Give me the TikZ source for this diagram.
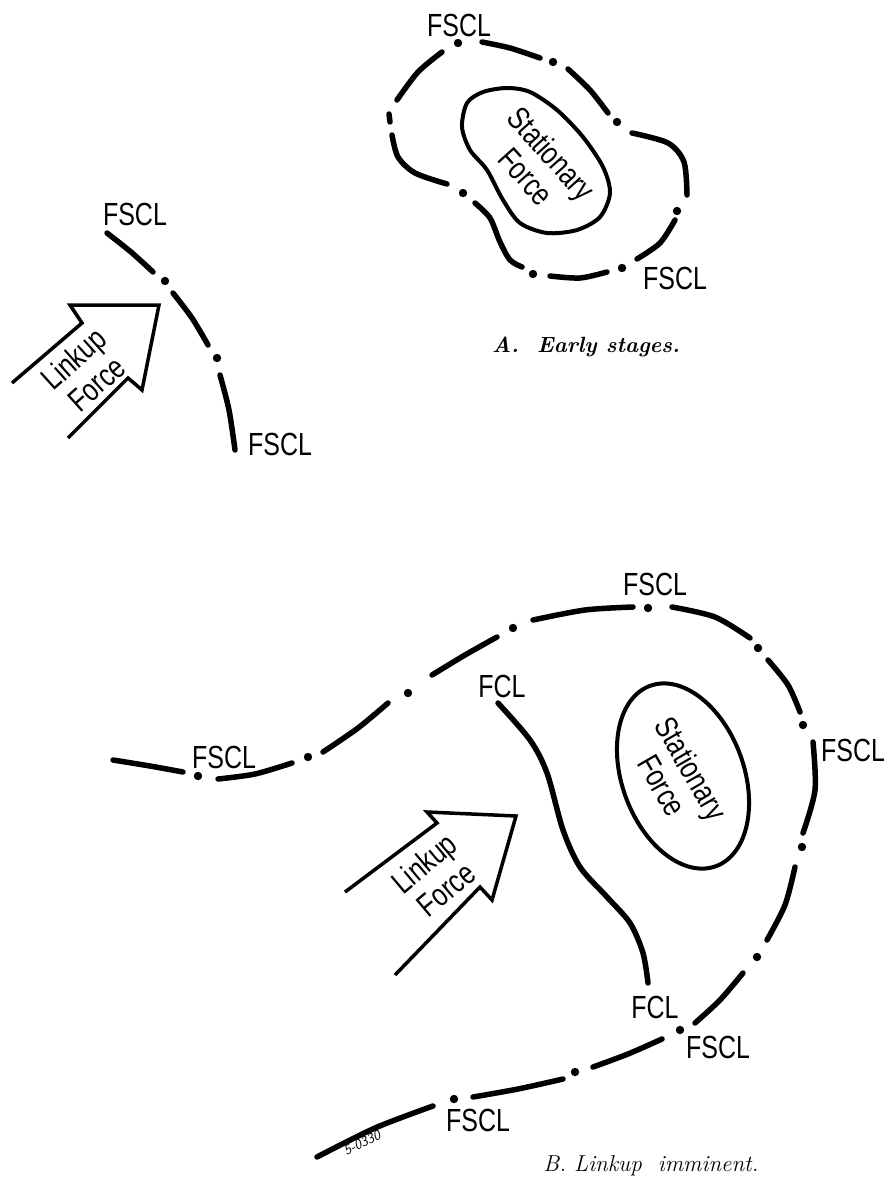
\documentclass[tikz,border=0pt]{standalone}
\usepackage{fontspec}
\newfontfamily\labfont{Liberation Sans}[FakeStretch=0.78]
\begin{document}
\begin{tikzpicture}[x=1pt,y=-1pt,
  fl/.style={line width=5.5pt, line cap=round, line join=round},
  sf/.style={line width=4pt, line join=round},
  arr/.style={line width=3.5pt, line join=miter},
  lab/.style={font=\labfont\fontsize{32}{34}\selectfont, inner sep=0pt, align=center},
  capt/.style={font=\itshape\fontsize{23}{25}\selectfont\addfontfeature{LetterSpace=5}, inner sep=0pt},
  capa/.style={font=\bfseries\itshape\fontsize{22}{25}\selectfont\addfontfeature{LetterSpace=7}, inner sep=0pt},
  dotr/.style={radius=4.2pt}]
\fill[white] (0,0) rectangle (889,1177);
\useasboundingbox (0,0) rectangle (889,1177);

% ---------- A: left FSCL line ----------
\draw[fl] plot[smooth] coordinates {(107,233) (131,252) (153,272)};
\fill (165,281) circle[dotr];
\draw[fl] plot[smooth] coordinates {(173,293) (192,318) (208,345)};
\fill (217,358) circle[dotr];
\draw[fl] plot[smooth] coordinates {(220,375) (229,410) (235,450)};
\node[lab] (a1) at (135,214) {FSCL};
\node[lab] (a2) at (280,444) {FSCL};

% ---------- A: arrow ----------
\draw[arr] (12,383) -- (82,323) -- (70,305) -- (159,305) -- (142,390) -- (128,378) -- (68,438);
\node[lab, rotate=42] (alk) at (85,371) {Linkup\\Force};

% ---------- A: outer FSCL loop ----------
\fill (458,43) circle[dotr];
\draw[fl] plot[smooth] coordinates {(442,52) (418,72) (397,100)};
\draw[fl] (389,114) -- (390,122);
\draw[fl] plot[smooth] coordinates {(392,135) (398,157) (415,173) (447,184)};
\fill (463,193) circle[dotr];
\draw[fl] plot[smooth] coordinates {(475,203) (490,218) (500,242) (510,260) (522,267)};
\fill (533,274) circle[dotr];
\draw[fl] plot[smooth] coordinates {(550,276) (580,278) (607,272)};
\fill (622,268) circle[dotr];
\draw[fl] plot[smooth] coordinates {(637,259) (660,243) (675,220)};
\fill (677,211) circle[dotr];
\draw[fl] plot[smooth] coordinates {(687,195) (684,162) (668,143) (632,133)};
\fill (617,122) circle[dotr];
\draw[fl] plot[smooth] coordinates {(608,113) (590,90) (568,69)};
\fill (553,62) circle[dotr];
\draw[fl] plot[smooth] coordinates {(540,58) (510,48) (482,42)};
\node[lab] (a3) at (459,25) {FSCL};
\node[lab] (a4) at (675,278) {FSCL};

% ---------- A: stationary force ----------
\draw[sf] plot[smooth cycle] coordinates {(467,103) (483,92) (507,88) (530,92) (557,110) (583,137) (603,167) (610,193) (600,217) (577,230) (547,233) (520,223) (503,200) (487,170) (470,150) (462,127)};
\node[lab, rotate=-48] (ast) at (539,165) {Stationary\\Force};

\node[capa] (acap) at (586,347) {A.\ \ Early stages.};

% ---------- B: big FSCL curve ----------
\draw[fl] plot[smooth] coordinates {(113,760) (150,766) (183,772)};
\fill (198,776) circle[dotr];
\draw[fl] plot[smooth] coordinates {(218,779) (255,774) (292,763)};
\fill (308,757) circle[dotr];
\draw[fl] plot[smooth] coordinates {(323,752) (358,728) (388,703)};
\fill (408,693) circle[dotr];
\draw[fl] plot[smooth] coordinates {(432,675) (465,655) (497,637)};
\fill (513,628) circle[dotr];
\draw[fl] plot[smooth] coordinates {(533,620) (585,610) (633,607)};
\fill (648,608) circle[dotr];
\draw[fl] plot[smooth] coordinates {(672,607) (715,617) (750,638)};
\fill (758,648) circle[dotr];
\draw[fl] plot[smooth] coordinates {(768,660) (788,685) (800,712)};
\fill (803,725) circle[dotr];
\draw[fl] plot[smooth] coordinates {(813,742) (815,790) (803,833)};
\fill (802,847) circle[dotr];
\draw[fl] plot[smooth] coordinates {(795,867) (785,905) (767,940)};
\fill (757,957) circle[dotr];
\draw[fl] plot[smooth] coordinates {(743,973) (720,1000) (695,1023)};
\fill (680,1030) circle[dotr];
\draw[fl] plot[smooth] coordinates {(662,1039) (628,1054) (593,1067)};
\fill (575,1072) circle[dotr];
\draw[fl] plot[smooth] coordinates {(563,1079) (518,1089) (473,1097)};
\fill (454,1099) circle[dotr];
\draw[fl] plot[smooth] coordinates {(433,1106) (375,1128) (317,1157)};

\node[lab] (b1) at (224,757) {FSCL};
\node[lab] (b2) at (655,584) {FSCL};
\node[lab] (b3) at (853,750) {FSCL};
\node[lab] (b4) at (718,1047) {FSCL};
\node[lab] (b5) at (478,1120) {FSCL};

% ---------- B: FCL ----------
\draw[fl] plot[smooth] coordinates {(498,703) (530,740) (547,773) (563,830) (580,867) (607,897) (630,923) (643,953) (648,983)};
\node[lab] (f1) at (502,686) {FCL};
\node[lab] (f2) at (655,1007) {FCL};

% ---------- B: stationary force ----------
\draw[sf] (683,776) ellipse[x radius=96pt, y radius=61pt, rotate=-70];
\node[lab, rotate=-60] (bst) at (677,777) {Stationary\\Force};

% ---------- B: arrow ----------
\draw[arr] (345,892) -- (437,823) -- (427,812) -- (516,816) -- (492,900) -- (480,887) -- (395,975);
\node[lab, rotate=40] (blk) at (435,876) {Linkup\\Force};

\node[font=\sffamily\itshape\fontsize{14}{14}\selectfont, inner sep=0pt, rotate=25] (code) at (362,1143) {5-0330};
\node[capt] (bcap) at (651,1166) {B.\ Linkup\ \ imminent.};
\end{tikzpicture}
\end{document}
